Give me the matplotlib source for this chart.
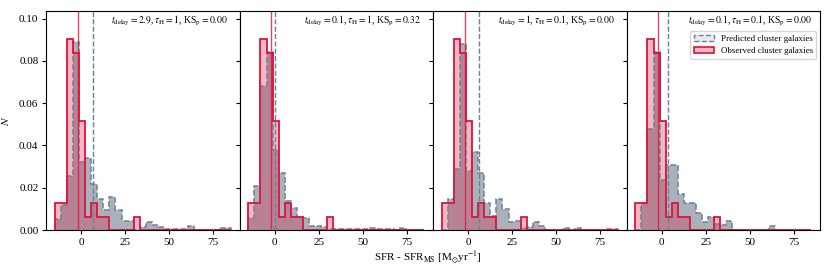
import numpy as np
import matplotlib
matplotlib.use("Agg")
from matplotlib import pyplot as plt
from matplotlib.patches import Patch

plt.rcParams['font.family'] = ['Liberation Serif', 'DejaVu Serif']
plt.rcParams['mathtext.fontset'] = 'stix'

# common bin edges for SFR - SFR_MS
bin_lo, bin_hi, n_bins = -15, 85, 29
edges = np.linspace(bin_lo, bin_hi, n_bins + 1)

# observed cluster galaxies (same in every panel), N per bin
observed = [0.0129, 0.0129, 0.0902, 0.0838, 0.0516, 0.0064, 0.0129, 0.0064,
            0.0064, 0.0, 0.0, 0.0, 0.0, 0.0064, 0.0, 0.0, 0.0, 0.0, 0.0, 0.0,
            0.0, 0.0, 0.0, 0.0, 0.0, 0.0, 0.0, 0.0, 0.0]
observed_median = -2.0

# predicted cluster galaxies, one row per model
pred_1 = [0.0052, 0.012, 0.0256, 0.089, 0.032, 0.034, 0.022, 0.0148, 0.0095,
          0.0155, 0.0095, 0.0043, 0.0043, 0.0, 0.0016, 0.0036, 0.0024, 0.0013,
          0.0003, 0.0006, 0.0006, 0.0003, 0.0019, 0.0, 0.0, 0.0, 0.0, 0.0008, 0.0008]
pred_2 = [0.0058, 0.021, 0.068, 0.084, 0.038, 0.027, 0.0139, 0.0105, 0.006,
          0.0055, 0.002, 0.002, 0.0013, 0.0006, 0.0006, 0.0006, 0.0006, 0.0006,
          0.0003, 0.0003, 0.0011, 0.0003, 0.0003, 0.0003, 0.0, 0.0008, 0.0, 0.0, 0.0]
pred_3 = [0.0, 0.0145, 0.029, 0.088, 0.028, 0.0367, 0.027, 0.0126, 0.0065,
          0.0145, 0.0098, 0.004, 0.0044, 0.0008, 0.0016, 0.0036, 0.002, 0.0,
          0.0, 0.0, 0.001, 0.0, 0.001, 0.0, 0.0, 0.0, 0.0, 0.0006, 0.0006]
pred_4 = [0.0, 0.0126, 0.048, 0.084, 0.0237, 0.031, 0.031, 0.0169, 0.0126,
          0.0126, 0.0082, 0.004, 0.0063, 0.003, 0.0024, 0.0043, 0.0, 0.0,
          0.0, 0.0, 0.0, 0.0, 0.0019, 0.0, 0.0, 0.0, 0.0, 0.0, 0.0]
predicted = [pred_1, pred_2, pred_3, pred_4]
pred_medians = [6.6, 0.4, 6.1, 3.6]

# model parameters per panel
t_delay = ['2.9', '0.1', '1', '0.1']
tau_h = ['1', '1', '0.1', '0.1']
ks_p = ['0.00', '0.32', '0.00', '0.00']

grey = 'slategrey'
red = 'crimson'

fig, axes = plt.subplots(1, 4, figsize=(8.31, 2.70), dpi=100, sharey=True)
fig.subplots_adjust(left=0.0554, right=0.9868, top=0.959, bottom=0.148, wspace=0)

for i, ax in enumerate(axes):
    centers = edges[:-1]
    # predicted: filled + dashed outline
    ax.hist(centers, bins=edges, weights=predicted[i], histtype='stepfilled',
            color=grey, alpha=0.6)
    ax.hist(centers, bins=edges, weights=predicted[i], histtype='step',
            color=grey, ls='--', lw=1.1)
    # observed: light fill + solid outline
    ax.hist(centers, bins=edges, weights=observed, histtype='stepfilled',
            color=red, alpha=0.3)
    ax.hist(centers, bins=edges, weights=observed, histtype='step',
            color=red, lw=1.3)
    ax.axvline(pred_medians[i], color=grey, ls='--', lw=1)
    ax.axvline(observed_median, color=red, lw=1, alpha=0.8)

    label = (r'$t_{\rm delay}=' + t_delay[i] + r'$, $\tau_{\rm H}=' + tau_h[i]
             + r'$, KS$_{\rm p}=' + ks_p[i] + '$')
    ax.text(50, 0.0988, label, ha='center', va='center', fontsize=6.9)

    ax.set_xlim(-20, 90)
    ax.set_xticks([0, 25, 50, 75])
    ax.tick_params(labelsize=8, length=3, pad=2.5)

axes[0].set_ylim(0, 0.1036)
axes[0].set_yticks([0, 0.02, 0.04, 0.06, 0.08, 0.10])
axes[0].yaxis.set_major_formatter(matplotlib.ticker.FormatStrFormatter('%.2f'))
axes[0].set_ylabel('$N$', fontsize=8, labelpad=6)

handles = [Patch(facecolor=(0.44, 0.5, 0.56, 0.15), edgecolor=grey, ls='--'),
           Patch(facecolor=(0.86, 0.08, 0.24, 0.3), edgecolor=red, lw=1.2)]
axes[3].legend(handles, ['Predicted cluster galaxies', 'Observed cluster galaxies'],
               loc='upper right', bbox_to_anchor=(1.0, 0.925), fontsize=6.4,
               borderaxespad=0.4, handlelength=2.2)

fig.text(0.515, 0.045, r'SFR - SFR$_{\rm MS}$ [M$_{\odot}$yr$^{-1}$]',
         ha='center', va='center', fontsize=8)

plt.savefig('out.png', dpi=100)
